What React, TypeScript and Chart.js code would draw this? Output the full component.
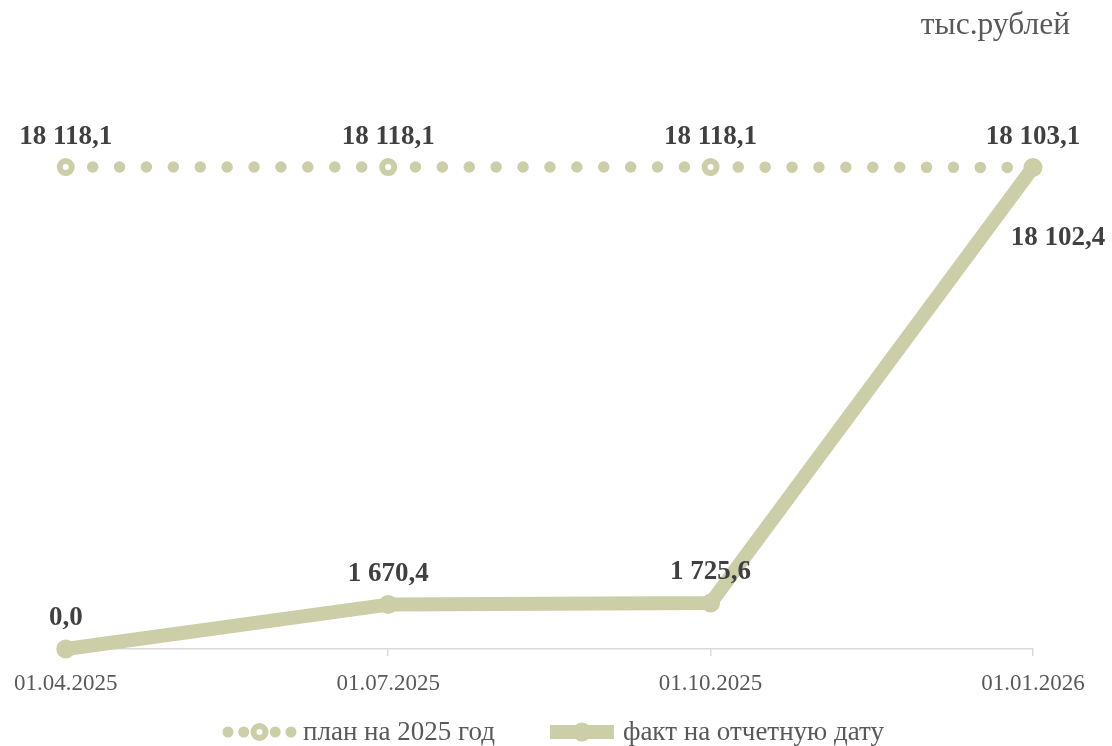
import React, { useEffect, useRef } from "react";
import { Chart, registerables } from "chart.js";

Chart.register(...registerables);

const categories = ["01.04.2025", "01.07.2025", "01.10.2025", "01.01.2026"];
const planValues = [18118.1, 18118.1, 18118.1, 18103.1];
const factValues = [0, 1670.4, 1725.6, 18102.4];
const seriesNames = ["план на 2025 год", "факт на отчетную дату"];
const unitLabel = "тыс.рублей";

const LINE_COLOR = "#CCCEA8";
const LABEL_COLOR = "#404040";
const AXIS_TEXT = "#595959";
const FONT = "'Liberation Serif', 'Times New Roman', serif";

function fmt(v: number): string {
  const [i, d] = v.toFixed(1).split(".");
  return i.replace(/\B(?=(\d{3})+(?!\d))/g, " ") + "," + d;
}

const valueLabels = {
  id: "valueLabels",
  afterDatasetsDraw(chart: any) {
    const ctx = chart.ctx;
    ctx.save();
    ctx.font = `bold 27px ${FONT}`;
    ctx.fillStyle = LABEL_COLOR;
    ctx.textAlign = "center";
    ctx.textBaseline = "alphabetic";
    chart.data.datasets.forEach((ds: any, di: number) => {
      const meta = chart.getDatasetMeta(di);
      const n = meta.data.length;
      meta.data.forEach((pt: any, i: number) => {
        const v = ds.data[i] as number;
        let x = pt.x;
        let y = pt.y - 23;
        if (ds.kind === "fact") {
          y = pt.y - 24;
          if (i === n - 1) {
            x = pt.x + 25;
            y = pt.y + 78;
          }
        }
        ctx.fillText(fmt(v), x, y);
      });
    });
    ctx.restore();
  },
};

const customLegend = {
  id: "customLegend",
  afterDraw(chart: any) {
    const ctx = chart.ctx;
    const W = chart.width;
    ctx.save();
    // unit label top right
    ctx.font = `31.5px ${FONT}`;
    ctx.fillStyle = AXIS_TEXT;
    ctx.textAlign = "right";
    ctx.textBaseline = "alphabetic";
    ctx.fillText(unitLabel, W - 42, 34);

    // legend
    ctx.font = `27px ${FONT}`;
    const y = 732;
    const s1 = 63, s2 = 64, gapT1 = 12, gapT2 = 9, gapI = 55;
    const t1 = ctx.measureText(seriesNames[0]).width;
    const t2 = ctx.measureText(seriesNames[1]).width;
    const total = s1 + gapT1 + t1 + gapI + s2 + gapT2 + t2;
    let x = (W - total) / 2;

    // plan sample (dotted + hollow marker)
    ctx.strokeStyle = LINE_COLOR;
    ctx.lineCap = "round";
    ctx.lineWidth = 11;
    ctx.setLineDash([0, s1 / 4]);
    ctx.beginPath();
    ctx.moveTo(x, y);
    ctx.lineTo(x + s1 + 0.5, y);
    ctx.stroke();
    ctx.setLineDash([]);
    ctx.beginPath();
    ctx.arc(x + s1 / 2, y, 6, 0, Math.PI * 2);
    ctx.fillStyle = "#FFFFFF";
    ctx.fill();
    ctx.lineWidth = 6;
    ctx.stroke();
    x += s1 + gapT1;
    ctx.fillStyle = AXIS_TEXT;
    ctx.textAlign = "left";
    ctx.textBaseline = "middle";
    ctx.fillText(seriesNames[0], x, y + 1);
    x += t1 + gapI;

    // fact sample
    ctx.lineCap = "butt";
    ctx.lineWidth = 14;
    ctx.beginPath();
    ctx.moveTo(x, y);
    ctx.lineTo(x + s2, y);
    ctx.stroke();
    ctx.beginPath();
    ctx.arc(x + s2 / 2, y, 9.5, 0, Math.PI * 2);
    ctx.fillStyle = LINE_COLOR;
    ctx.fill();
    x += s2 + gapT2;
    ctx.fillStyle = AXIS_TEXT;
    ctx.fillText(seriesNames[1], x, y + 1);
    ctx.restore();
  },
};

export default function App() {
  const ref = useRef<HTMLCanvasElement | null>(null);

  useEffect(() => {
    if (!ref.current) return;
    const chart = new Chart(ref.current, {
      type: "line",
      data: {
        labels: categories,
        datasets: [
          {
            label: seriesNames[0],
            kind: "plan",
            data: planValues,
            borderColor: LINE_COLOR,
            borderWidth: 11.5,
            borderDash: [0, 26.9],
            borderCapStyle: "round",
            pointRadius: 6,
            pointBorderWidth: 6,
            pointBackgroundColor: "#FFFFFF",
            pointBorderColor: LINE_COLOR,
            pointStyle: "circle",
            tension: 0,
            clip: false,
            order: 2,
          } as any,
          {
            label: seriesNames[1],
            kind: "fact",
            data: factValues,
            borderColor: LINE_COLOR,
            borderWidth: 14,
            borderJoinStyle: "round",
            borderCapStyle: "round",
            pointRadius: 6.5,
            pointBorderWidth: 6,
            pointBackgroundColor: LINE_COLOR,
            pointBorderColor: LINE_COLOR,
            tension: 0,
            clip: false,
            order: 1,
          } as any,
        ],
      },
      options: {
        responsive: false,
        animation: false,
        devicePixelRatio: 1,
        layout: { padding: { top: 117, left: 65, right: 79, bottom: 47 } },
        plugins: {
          legend: { display: false },
          tooltip: { enabled: false },
          title: { display: false },
        },
        scales: {
          x: {
            offset: false,
            grid: {
              display: true,
              drawOnChartArea: false,
              drawTicks: true,
              tickLength: 7,
              color: "#D9D9D9",
              lineWidth: 1.5,
            },
            border: { display: true, color: "#D9D9D9", width: 1.5 },
            ticks: {
              color: AXIS_TEXT,
              font: { family: FONT, size: 23 },
              padding: 14,
              maxRotation: 0,
              autoSkip: false,
            },
            afterFit: (s: any) => {
              s.height = 50;
            },
          },
          y: { display: false, min: 0, max: 20000 },
        },
      },
      plugins: [valueLabels, customLegend],
    });
    return () => chart.destroy();
  }, []);

  return (
    <div style={{ position: "fixed", left: 0, top: 0, width: 1112, height: 746, background: "#fff" }}>
      <canvas ref={ref} width={1112} height={746} />
    </div>
  );
}
